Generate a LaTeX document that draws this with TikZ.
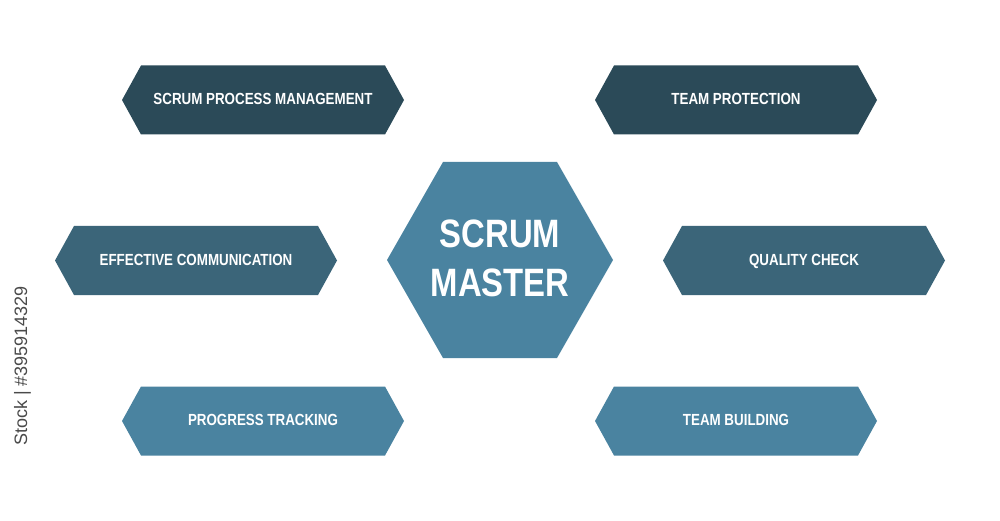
\documentclass[tikz,border=0pt]{standalone}
\usepackage{fontspec}
\setmainfont{Liberation Sans}
\newfontfamily\condfont[FakeStretch=0.83]{Liberation Sans}
\definecolor{darkhex}{HTML}{2B4A58}
\definecolor{midhex}{HTML}{3B6579}
\definecolor{lighthex}{HTML}{4A83A0}
\definecolor{stockgrey}{HTML}{4A4A4A}
\tikzset{
  boxlabel/.style={text=white,inner sep=0pt,anchor=base,font=\condfont\bfseries\fontsize{16.1}{18}\selectfont},
  masterlabel/.style={text=white,inner sep=0pt,align=center,font=\condfont\bfseries\fontsize{39.6}{49}\selectfont},
  stocklabel/.style={text=stockgrey,inner sep=0pt,rotate=90,font=\fontsize{18}{20}\selectfont}
}
% #1 name, #2 centre x, #3 centre y (px, downward), #4 half height, #5 colour, #6 text
\newcommand{\hexbox}[6]{%
  \fill[#5] ({#2-141},{-#3}) -- ({#2-122},{-#3+#4}) -- ({#2+122},{-#3+#4}) -- ({#2+141},{-#3})
     -- ({#2+122},{-#3-#4}) -- ({#2-122},{-#3-#4}) -- cycle;
  \node[boxlabel] (#1) at (#2,{-#3-4.6}) {#6};
}
\begin{document}
\begin{tikzpicture}[x=1pt,y=1pt]
\useasboundingbox (0,0) rectangle (1000,-521);
\fill[white] (0,0) rectangle (1000,-521);
\hexbox{process}{263}{100}{34.5}{darkhex}{SCRUM PROCESS MANAGEMENT}
\hexbox{protection}{736}{100}{34.5}{darkhex}{TEAM PROTECTION}
\hexbox{communication}{196}{260.5}{34.5}{midhex}{EFFECTIVE COMMUNICATION}
\hexbox{quality}{804}{260.5}{34.5}{midhex}{QUALITY CHECK}
\hexbox{progress}{263}{421}{34.5}{lighthex}{PROGRESS TRACKING}
\hexbox{building}{736}{421}{34.5}{lighthex}{TEAM BUILDING}
\fill[lighthex] (387,-260) -- (443,-162) -- (557,-162) -- (613,-260) -- (557,-358) -- (443,-358) -- cycle;
\node[masterlabel] (master) at (500,-258) {SCRUM\\MASTER};
\node[stocklabel,anchor=west] (stock) at (22.5,-446) {Stock | \#395914329};
\end{tikzpicture}
\end{document}
